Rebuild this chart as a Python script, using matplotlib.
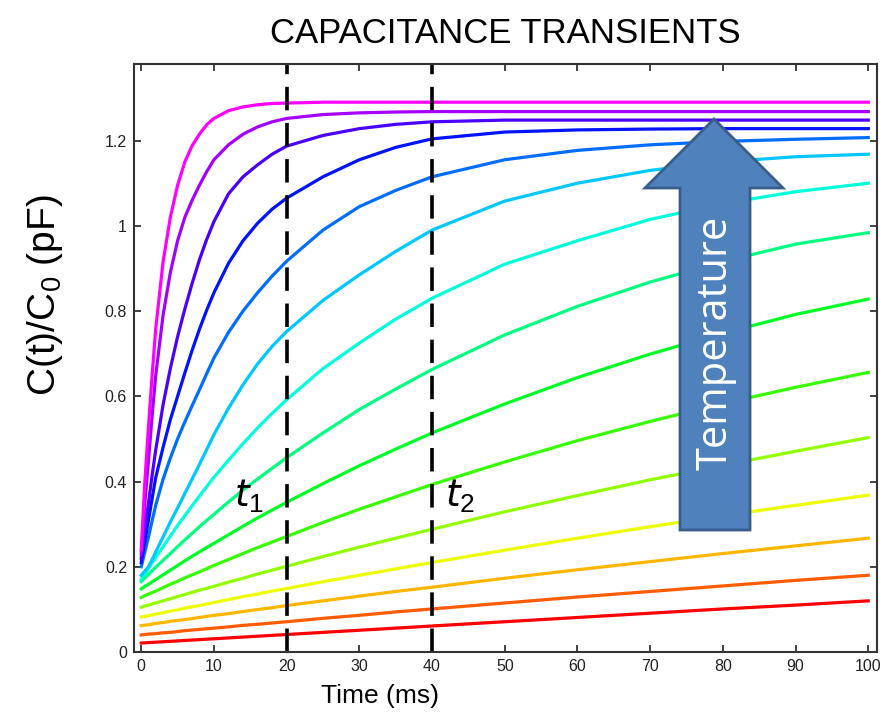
import numpy as np
import matplotlib.pyplot as plt
from matplotlib.colors import hsv_to_rgb
from matplotlib.patches import Polygon

# sampling times of the transients (ms)
time_ms = [0, 0.5, 1, 1.5, 2, 3, 4, 5, 6, 7, 8, 9, 10, 12, 14, 16, 18, 20,
           25, 30, 35, 40, 50, 60, 70, 80, 90, 100]

# C(t)/C0 for each temperature, lowest temperature first
c01 = [0.021, 0.0215, 0.022, 0.0225, 0.023, 0.024, 0.025, 0.026, 0.027, 0.028, 0.029, 0.030,
       0.031, 0.033, 0.035, 0.037, 0.039, 0.041, 0.046, 0.051, 0.056, 0.061, 0.071, 0.081,
       0.091, 0.101, 0.110, 0.120]
c02 = [0.040, 0.041, 0.042, 0.0425, 0.043, 0.045, 0.046, 0.048, 0.050, 0.0515, 0.053, 0.0545,
       0.056, 0.059, 0.0625, 0.065, 0.068, 0.071, 0.079, 0.086, 0.094, 0.101, 0.115, 0.129,
       0.142, 0.155, 0.168, 0.180]
c03 = [0.062, 0.063, 0.064, 0.0655, 0.067, 0.069, 0.072, 0.074, 0.076, 0.0785, 0.081, 0.0835,
       0.086, 0.090, 0.095, 0.0995, 0.104, 0.109, 0.120, 0.131, 0.142, 0.152, 0.173, 0.193,
       0.212, 0.231, 0.249, 0.267]
c04 = [0.082, 0.084, 0.085, 0.087, 0.089, 0.092, 0.096, 0.099, 0.103, 0.106, 0.109, 0.1125,
       0.116, 0.123, 0.130, 0.136, 0.143, 0.149, 0.165, 0.180, 0.195, 0.210, 0.239, 0.267,
       0.294, 0.320, 0.344, 0.368]
c05 = [0.105, 0.108, 0.110, 0.1125, 0.115, 0.120, 0.125, 0.130, 0.135, 0.140, 0.145, 0.1495,
       0.154, 0.164, 0.173, 0.183, 0.192, 0.201, 0.224, 0.246, 0.267, 0.288, 0.329, 0.367,
       0.404, 0.438, 0.471, 0.503]
c06 = [0.128, 0.132, 0.136, 0.1395, 0.143, 0.151, 0.159, 0.166, 0.174, 0.181, 0.188, 0.1955,
       0.203, 0.217, 0.231, 0.245, 0.258, 0.271, 0.304, 0.335, 0.364, 0.393, 0.446, 0.496,
       0.541, 0.583, 0.621, 0.656]
c07 = [0.148, 0.154, 0.159, 0.1645, 0.170, 0.181, 0.192, 0.203, 0.214, 0.2245, 0.235, 0.245,
       0.255, 0.275, 0.295, 0.3145, 0.333, 0.351, 0.395, 0.437, 0.476, 0.514, 0.582, 0.644,
       0.699, 0.748, 0.792, 0.828]
c08 = [0.165, 0.174, 0.182, 0.1905, 0.199, 0.215, 0.231, 0.247, 0.263, 0.2785, 0.294, 0.3085,
       0.323, 0.352, 0.380, 0.406, 0.431, 0.456, 0.514, 0.569, 0.617, 0.663, 0.744, 0.811,
       0.868, 0.916, 0.957, 0.984]
c09 = [0.170, 0.183, 0.196, 0.209, 0.222, 0.247, 0.272, 0.297, 0.320, 0.343, 0.366, 0.388,
       0.410, 0.450, 0.489, 0.526, 0.560, 0.592, 0.665, 0.725, 0.781, 0.830, 0.910, 0.965,
       1.015, 1.052, 1.080, 1.100]
c10 = [0.180, 0.190, 0.200, 0.217, 0.235, 0.270, 0.305, 0.338, 0.372, 0.406, 0.440, 0.475,
       0.510, 0.572, 0.627, 0.676, 0.717, 0.752, 0.825, 0.885, 0.940, 0.990, 1.058, 1.100,
       1.130, 1.150, 1.162, 1.168]
c11 = [0.200, 0.235, 0.270, 0.308, 0.345, 0.405, 0.455, 0.500, 0.540, 0.578, 0.615, 0.653,
       0.690, 0.750, 0.800, 0.843, 0.882, 0.917, 0.990, 1.045, 1.083, 1.115, 1.155, 1.177,
       1.190, 1.198, 1.203, 1.207]
c12 = [0.210, 0.260, 0.310, 0.360, 0.410, 0.480, 0.545, 0.600, 0.655, 0.708, 0.757, 0.802,
       0.843, 0.912, 0.965, 1.006, 1.039, 1.065, 1.115, 1.155, 1.184, 1.204, 1.220, 1.225,
       1.227, 1.228, 1.228, 1.228]
c13 = [0.220, 0.290, 0.350, 0.415, 0.475, 0.580, 0.665, 0.740, 0.805, 0.865, 0.920, 0.968,
       1.010, 1.075, 1.115, 1.143, 1.168, 1.187, 1.212, 1.228, 1.238, 1.244, 1.248, 1.248,
       1.248, 1.248, 1.248, 1.248]
c14 = [0.230, 0.350, 0.450, 0.555, 0.650, 0.790, 0.890, 0.965, 1.020, 1.060, 1.095, 1.127,
       1.155, 1.190, 1.215, 1.232, 1.244, 1.252, 1.261, 1.265, 1.267, 1.268, 1.268, 1.268,
       1.268, 1.268, 1.268, 1.268]
c15 = [0.240, 0.400, 0.530, 0.650, 0.760, 0.915, 1.020, 1.095, 1.150, 1.188, 1.215, 1.237,
       1.252, 1.270, 1.279, 1.284, 1.287, 1.288, 1.290, 1.290, 1.290, 1.290, 1.290, 1.290,
       1.290, 1.290, 1.290, 1.290]

transients = [c01, c02, c03, c04, c05, c06, c07, c08, c09, c10, c11, c12, c13, c14, c15]

# rate window times
t1 = 20
t2 = 40

plt.rcParams['font.family'] = ['Liberation Sans', 'DejaVu Sans']
plt.rcParams['mathtext.fontset'] = 'custom'
plt.rcParams['mathtext.it'] = 'DejaVu Sans:italic'
plt.rcParams['mathtext.rm'] = 'Liberation Sans'

fig = plt.figure(figsize=(8.89, 7.19), dpi=100)
ax = fig.add_axes([0.1507, 0.0932, 0.8358, 0.818])

# red (cold) through magenta (hot)
hues = np.linspace(0, 300 / 360, len(transients))
colors = [hsv_to_rgb((h, 1.0, 1.0)) for h in hues]
for c, col in zip(transients, colors):
    ax.plot(time_ms, c, color=col, lw=2.3, solid_joinstyle='round')

for t in (t1, t2):
    ax.axvline(t, color='black', lw=2.6, dashes=(6.5, 3.5))

ax.text(t1 - 5.2, 0.365, r'$\mathit{t_1}$', fontsize=27, ha='center', va='center')
ax.text(t2 + 3.9, 0.365, r'$\mathit{t_2}$', fontsize=27, ha='center', va='center')

ax.set_xlim(-1, 101.2)
ax.set_ylim(0, 1.38)
ax.set_xticks(np.arange(0, 101, 10))
ax.set_yticks([0, 0.2, 0.4, 0.6, 0.8, 1.0, 1.2])
ax.set_yticklabels(['0', '0.2', '0.4', '0.6', '0.8', '1', '1.2'])
ax.tick_params(direction='in', top=True, right=True, length=5, width=1.2,
               labelsize=11.5, colors='#222222', pad=5)
for s in ax.spines.values():
    s.set_linewidth(1.5)
    s.set_color('#333333')

ax.set_title('CAPACITANCE TRANSIENTS', fontsize=25, pad=15)
ax.set_xlabel('Time (ms)', fontsize=19)
ax.xaxis.set_label_coords(0.331, -0.055, transform=ax.transAxes)
ax.xaxis.label.set_va('top')
ax.set_ylabel(r'C(t)/C$_\mathrm{0}$ (pF)', fontsize=28)
ax.yaxis.set_label_coords(-0.093, 0.607, transform=ax.transAxes)

# temperature arrow (pixel outline converted to figure fraction)
W, H = 889, 719
arrow_px = [(714, 119), (783, 188), (750, 188), (750, 530),
            (680, 530), (680, 188), (645, 188)]
arrow = Polygon([(x / W, 1 - y / H) for x, y in arrow_px], closed=True,
                transform=fig.transFigure, facecolor='#4F81BD',
                edgecolor='#385D8A', lw=2, zorder=5)
fig.patches.append(arrow)
fig.text(716 / W, 1 - 343 / H, 'Temperature', rotation=90, color='white',
         fontsize=30, family=['Open Sans', 'DejaVu Sans'],
         ha='center', va='center', zorder=6)

fig.savefig('out.png', dpi=100)
